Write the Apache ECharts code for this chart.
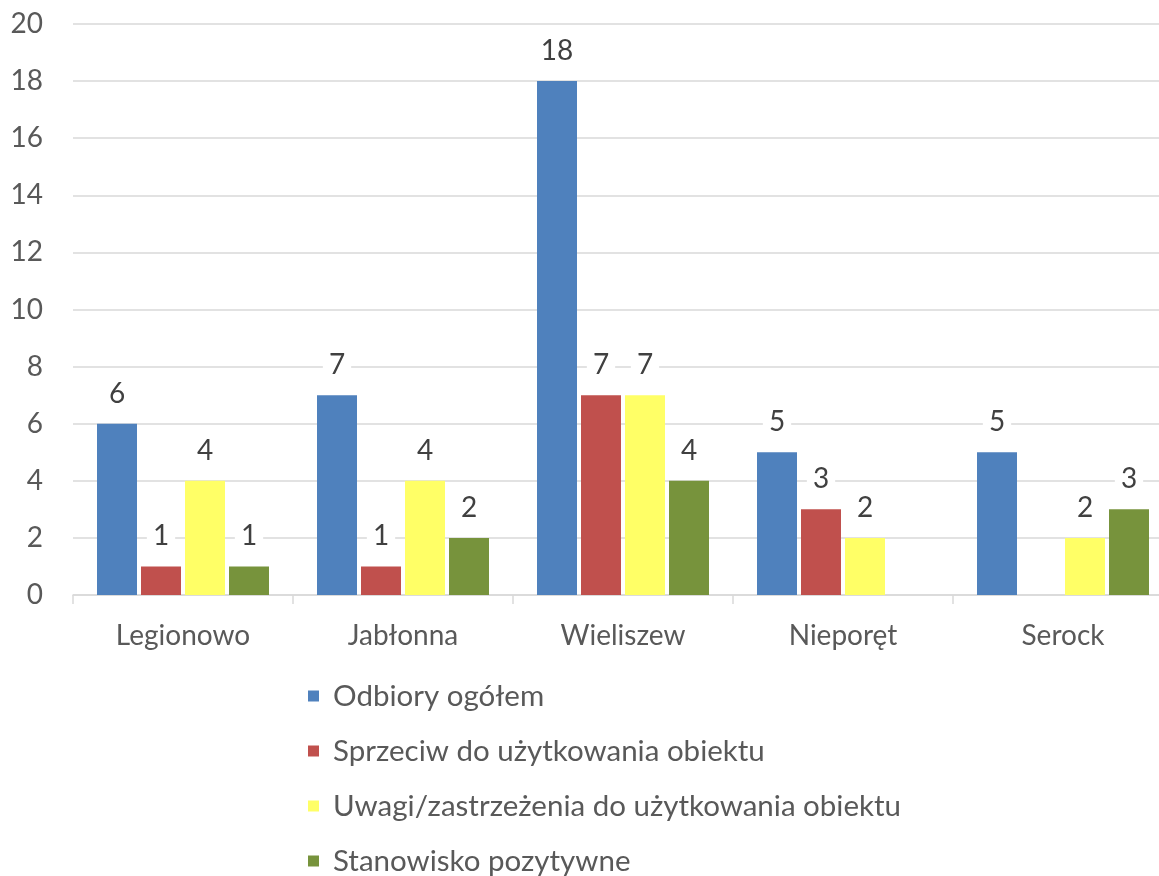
<!DOCTYPE html>
<html><head><meta charset="utf-8">
<script src="https://cdn.jsdelivr.net/npm/echarts@6/dist/echarts.min.js"></script>
<style>html,body{margin:0;padding:0;background:#fff}#c{width:1159px;height:876px}</style>
</head><body><div id="c"></div>
<script>
const categories = ['Legionowo', 'Jabłonna', 'Wieliszew', 'Nieporęt', 'Serock'];
const seriesNames = ['Odbiory ogółem', 'Sprzeciw do użytkowania obiektu', 'Uwagi/zastrzeżenia do użytkowania obiektu', 'Stanowisko pozytywne'];
const odbiory = [6, 7, 18, 5, 5];
const sprzeciw = [1, 1, 7, 3, 0];
const uwagi = [4, 4, 7, 2, 2];
const pozytywne = [1, 2, 4, 0, 3];
const colors = ['#4f81bd', '#c0504d', '#ffff66', '#77933c'];
const values = [odbiory, sprzeciw, uwagi, pozytywne];
const FONT = 'Lato';
const FS = 28;
const chart = echarts.init(document.getElementById('c'));
chart.setOption({
  animation: false,
  textStyle: { fontFamily: FONT },
  grid: { left: 73, width: 1100, top: 24, bottom: 281, containLabel: false, outerBoundsMode: 'none' },
  legend: {
    orient: 'vertical', left: 308, top: 681, height: 195, itemGap: 25,
    itemWidth: 11, itemHeight: 11, icon: 'rect', padding: 0,
    textStyle: { fontSize: 29.5, color: '#595959', fontFamily: FONT, padding: [0, 0, 0, 9] },
    data: seriesNames
  },
  xAxis: {
    type: 'category', data: categories,
    axisLine: { lineStyle: { color: '#d9d9d9', width: 1.5 } },
    axisTick: { show: true, length: 9, lineStyle: { color: '#d9d9d9', width: 1.5 } },
    axisLabel: { fontSize: FS, color: '#595959', margin: 27, fontFamily: FONT },
    splitLine: { show: false }
  },
  yAxis: {
    type: 'value', min: 0, max: 20, interval: 2,
    axisLine: { show: false }, axisTick: { show: false },
    axisLabel: { fontSize: FS, color: '#595959', margin: 30, fontFamily: FONT },
    splitLine: { lineStyle: { color: '#d9d9d9', width: 1.5 } }
  },
  series: values.map((v, i) => ({
    name: seriesNames[i], type: 'bar', data: v,
    barWidth: 40, barGap: '10%',
    itemStyle: { color: colors[i] },
    label: {
      show: true, position: 'top', distance: 14,
      fontSize: FS, color: '#404040', fontFamily: FONT,
      backgroundColor: '#fff', padding: [2, 6, 2, 6],
      formatter: p => p.value === 0 ? '' : String(p.value)
    }
  }))
});
</script></body></html>
